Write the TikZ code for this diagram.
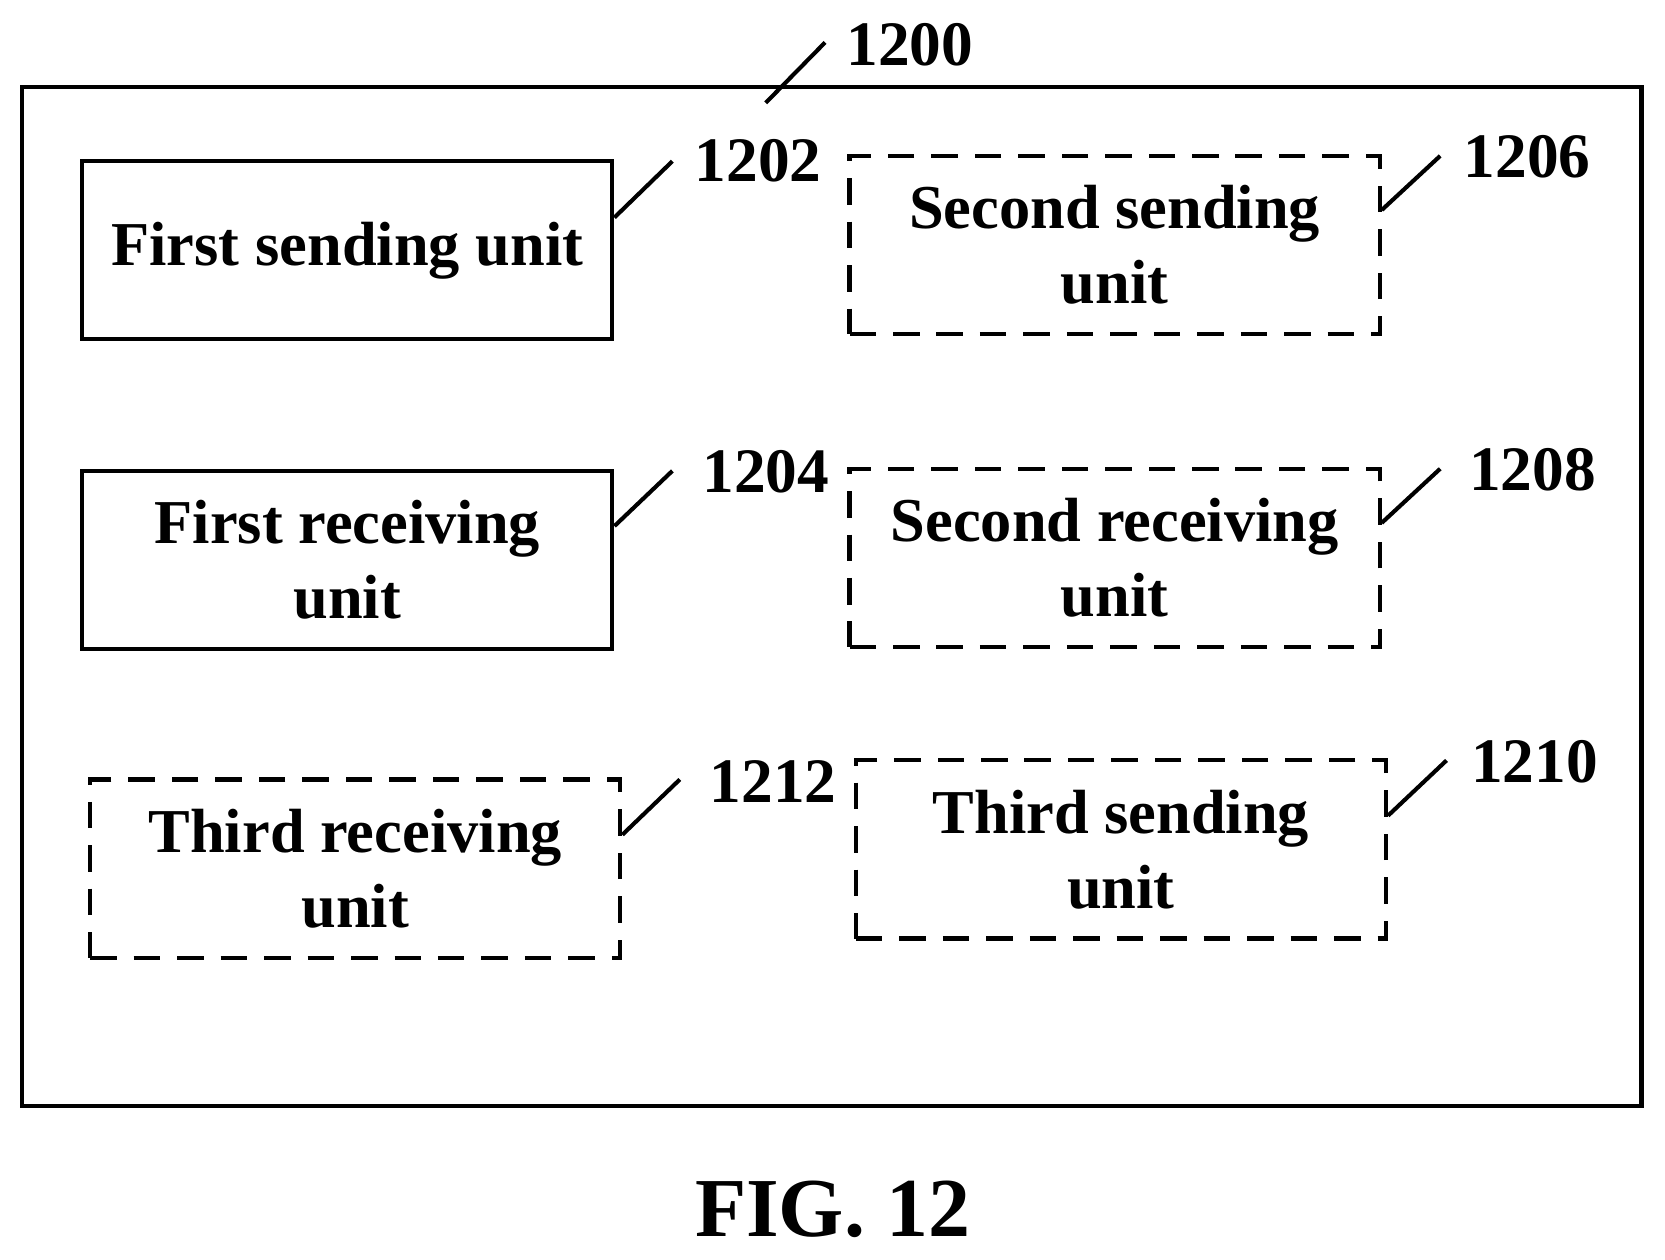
\documentclass[tikz,border=0pt]{standalone}
\usepackage{fontspec}
\setmainfont{Liberation Serif}
\usetikzlibrary{positioning}
\begin{document}
\begin{tikzpicture}[x=0.02cm,y=-0.02cm,
  unit_box/.style={draw,line width=2.2pt,minimum width=10cm,minimum height=3.36cm,
    align=center,font=\fontsize{33.5}{40}\selectfont\bfseries,inner sep=0pt},
  opt_box/.style={unit_box,dash pattern=on 0.5cm off 0.32cm},
  ref_num/.style={font=\fontsize{34}{36}\selectfont\bfseries,inner sep=0pt},
  leader/.style={line width=2.2pt}]
  \useasboundingbox (0,0) rectangle (1570,1188);

  \node[draw,line width=2.2pt,minimum width=30.54cm,minimum height=19.22cm,inner sep=0pt] (dev) at (784.5,562.5) {};

  \node[unit_box] (fsu) at (327.5,236) {First sending unit};
  \node[opt_box]  (ssu) at (1051,231) {Second sending\\[0pt]unit};
  \node[unit_box] (fru) at (327.5,528) {First receiving\\[0pt]unit};
  \node[opt_box]  (sru) at (1051,526) {Second receiving\\[0pt]unit};
  \node[opt_box]  (tru) at (335,819) {Third receiving\\[0pt]unit};
  \node[opt_box]  (tsu) at (1057,801) {Third sending\\[0pt]unit};

  % reference numerals
  \node[ref_num] (n1200) at (858,42) {1200};
  \node[ref_num] (n1202) at (715,152) {1202};
  \node[ref_num] (n1206) at (1440,148) {1206};
  \node[ref_num] (n1204) at (722,445) {1204};
  \node[ref_num] (n1208) at (1445,443) {1208};
  \node[ref_num] (n1212) at (729,737) {1212};
  \node[ref_num] (n1210) at (1447,718) {1210};

  \coordinate (e1200) at (778,40);
  \coordinate (e1202) at (634,152);
  \coordinate (e1206) at (1358,147);
  \coordinate (e1204) at (634,444);
  \coordinate (e1208) at (1358,442);
  \coordinate (e1212) at (641,735);
  \coordinate (e1210) at (1364,717);

  \draw[leader] (722,97) -- (e1200);
  \draw[leader] ([yshift=-1.1cm]fsu.north east) -- (e1202);
  \draw[leader] ([yshift=-1.06cm]ssu.north east) -- (e1206);
  \draw[leader] ([yshift=-1.08cm]fru.north east) -- (e1204);
  \draw[leader] ([yshift=-1.06cm]sru.north east) -- (e1208);
  \draw[leader] ([yshift=-1.08cm]tru.north east) -- (e1212);
  \draw[leader] ([yshift=-1.08cm]tsu.north east) -- (e1210);

  \node[font=\fontsize{45}{50}\selectfont\bfseries] (fig) at (785,1140) {FIG. 12};
\end{tikzpicture}
\end{document}
